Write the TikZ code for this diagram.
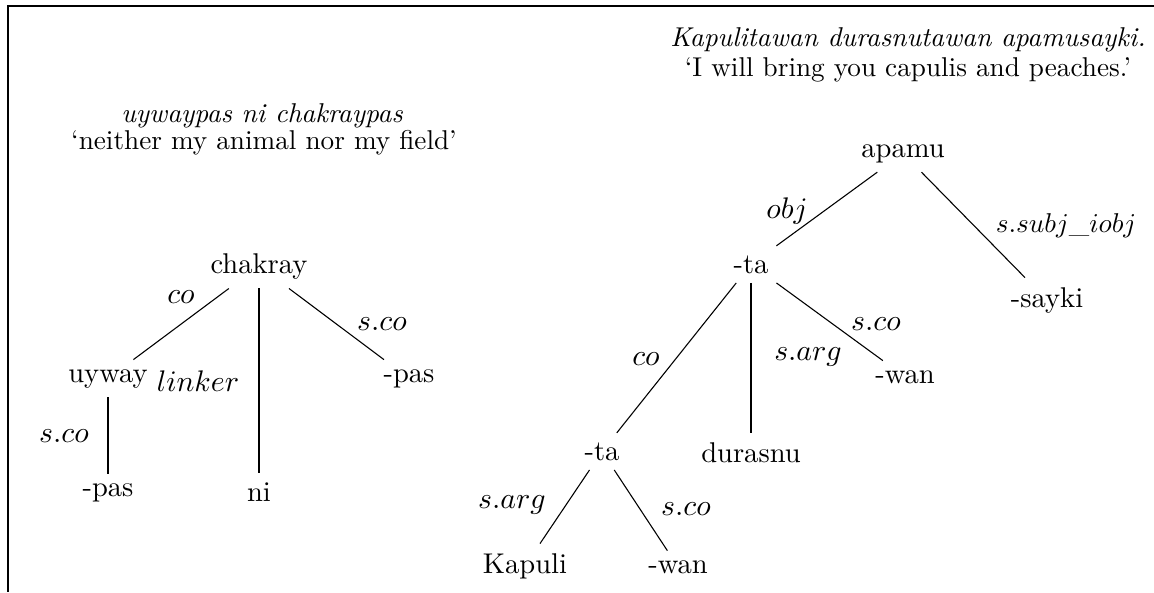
\documentclass[tikz,border=0pt]{standalone}
\usetikzlibrary{positioning}
\begin{document}
\begin{tikzpicture}[
    x=0.3676pt, y=-0.3676pt,
    word/.style={anchor=base, font=\fontsize{10.5pt}{12.6pt}\selectfont},
    rel/.style={anchor=base, inner sep=0pt, font=\fontsize{10.5pt}{12.6pt}\selectfont},
    gloss/.style={anchor=base, inner sep=0pt, font=\itshape},
    transl/.style={anchor=base, inner sep=0pt},
    branch/.style={draw, line width=0.4pt}
]
    \useasboundingbox (0,0) rectangle (1154,592);

    % --- Frame ---
    \coordinate (frame-tr) at (1154,6);
    \coordinate (frame-tl) at (8,6);
    \coordinate (frame-bl) at (8,592);
    \draw[line width=0.4pt] (frame-tr) -- (frame-tl) -- (frame-bl);

    % --- Left tree: uywaypas ni chakraypas ---
    \node[gloss] (glossL) at (262,122) {uywaypas ni chakraypas};
    \node[transl] (translL) at (264,149) {`neither my animal nor my field'};

    \node[word] (chakray) at (259,273) {chakray};
    \node[word] (uyway) at (108,382) {uyway};
    \node[word] (pasR) at (409,382) {-pas};
    \node[word] (ni) at (259,501) {ni};
    \node[word] (pasL) at (108,496) {-pas};

    \node[rel] (lbl-co) at (181,303) {$co$};
    \node[rel] (lbl-linker) at (198,391) {$linker$};
    \node[rel] (lbl-scoR) at (382,330) {$s.co$};
    \node[rel] (lbl-scoL) at (64,442) {$s.co$};

    \draw[branch] (chakray) -- (uyway);
    \draw[branch] (chakray) -- (ni);
    \draw[branch] (chakray) -- (pasR);
    \draw[branch] (uyway) -- (pasL);

    % --- Right tree: Kapulitawan durasnutawan apamusayki ---
    \node[gloss] (glossR) at (908,46) {Kapulitawan durasnutawan apamusayki.};
    \node[transl] (translR) at (908,76) {`I will bring you capulis and peaches.'};

    \node[word] (apamu) at (903,157) {apamu};
    \node[word] (taA) at (751,273) {-ta};
    \node[word] (sayki) at (1047,307) {-sayki};
    \node[word] (wanA) at (905,383) {-wan};
    \node[word] (durasnu) at (751,462) {durasnu};
    \node[word] (taB) at (602,460) {-ta};
    \node[word] (kapuli) at (525,573) {Kapuli};
    \node[word] (wanB) at (678,573) {-wan};

    \node[rel] (lbl-obj) at (787,218) {$obj$};
    \node[rel, font=\normalsize] (lbl-subj) at (1066,232) {$s.subj\_iobj$};
    \node[rel] (lbl-scoA) at (876,330) {$s.co$};
    \node[rel] (lbl-sargA) at (808,360) {$s.arg$};
    \node[rel] (lbl-coA) at (646,365) {$co$};
    \node[rel] (lbl-sargB) at (512,508) {$s.arg$};
    \node[rel] (lbl-scoB) at (686,515) {$s.co$};

    \draw[branch] (apamu) -- (taA);
    \draw[branch] (apamu) -- (sayki);
    \draw[branch] (taA) -- (taB);
    \draw[branch] (taA) -- (durasnu);
    \draw[branch] (taA) -- (wanA);
    \draw[branch] (taB) -- (kapuli);
    \draw[branch] (taB) -- (wanB);

\end{tikzpicture}
\end{document}
